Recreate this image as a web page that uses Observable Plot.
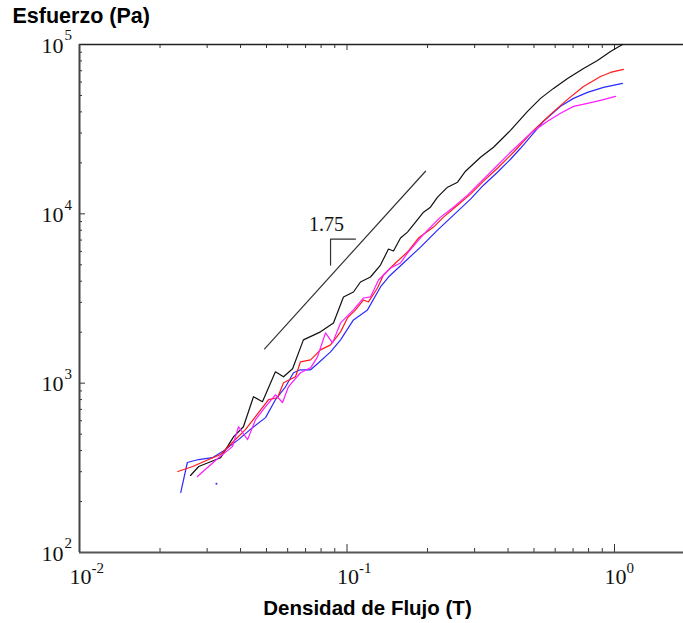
<!DOCTYPE html>
<html>
<head>
<meta charset="utf-8">
<script src="https://cdn.jsdelivr.net/npm/d3@7"></script>
<script src="https://cdn.jsdelivr.net/npm/@observablehq/plot@0.6"></script>
<style>
  html, body { margin: 0; padding: 0; background: #fff; }
</style>
</head>
<body>
<div id="chart"></div>
<script>
// Tick values and labels
const xMajor = [0.01, 0.1, 1];
const xMajorExp = ["-2", "-1", "0"];
const xMinor = [0.02,0.03,0.04,0.05,0.06,0.07,0.08,0.09,0.2,0.3,0.4,0.5,0.6,0.7,0.8,0.9];
const yMajor = [100, 1000, 10000, 100000];
const yMajorExp = ["2", "3", "4", "5"];
const yMinor = [200,300,400,500,600,700,800,900,2000,3000,4000,5000,6000,7000,8000,9000,20000,30000,40000,50000,60000,70000,80000,90000];

// Series: [Densidad de Flujo (T), Esfuerzo (Pa)]
const black = [[0.0260,285],[0.0279,322],[0.0337,363],[0.0377,483],[0.0410,553],[0.0447,832],[0.0483,777],[0.0540,1167],[0.0579,1091],[0.0626,1216],[0.0687,1802],[0.0796,2009],[0.0890,2269],[0.0970,3229],[0.1057,3455],[0.1123,3959],[0.1224,4236],[0.1334,4985],[0.1429,6194],[0.1492,6029],[0.1585,7192],[0.1683,7802],[0.1804,8935],[0.1932,10230],[0.2051,10950],[0.2180,12540],[0.2376,14370],[0.2590,15380],[0.2773,17850],[0.3156,21590],[0.3530,24720],[0.4085,31130],[0.4730,40290],[0.5290,48060],[0.5916,55050],[0.6674,63060],[0.7658,72210],[0.8640,80500],[0.9661,90950],[1.071,100000]];
const red = [[0.0233,301],[0.0265,322],[0.0304,354],[0.0337,379],[0.0373,446],[0.0417,532],[0.0467,669],[0.0509,799],[0.0550,820],[0.0579,1005],[0.0642,1091],[0.0670,1337],[0.0731,1374],[0.0796,1573],[0.0868,1684],[0.0946,2009],[0.1004,2429],[0.1076,2708],[0.1153,3100],[0.1203,3018],[0.1300,3649],[0.1369,4353],[0.1518,5123],[0.1683,5948],[0.1850,7192],[0.2106,8354],[0.2295,9563],[0.2588,11250],[0.2895,13070],[0.3237,15590],[0.3652,18590],[0.4193,23100],[0.4980,31130],[0.5764,38690],[0.6673,47430],[0.7658,56550],[0.8866,64760],[0.966,68390],[1.080,71240]];
const blue = [[0.0239,226],[0.0253,340],[0.0279,354],[0.0314,363],[0.0351,405],[0.0393,464],[0.0443,546],[0.0496,626],[0.0540,799],[0.0589,952],[0.0631,1152],[0.0670,1199],[0.0731,1199],[0.0783,1319],[0.0868,1531],[0.0946,1802],[0.1057,2363],[0.1193,2708],[0.1334,3699],[0.1429,4236],[0.1626,5123],[0.1883,6364],[0.2180,8015],[0.2501,9824],[0.2895,12210],[0.3237,14760],[0.3652,17610],[0.4085,21010],[0.4453,24390],[0.5428,35180],[0.6283,43120],[0.7027,48060],[0.7925,52140],[0.9096,55800],[1.071,58910]];
const magenta = [[0.0276,281],[0.0304,322],[0.0331,363],[0.0373,422],[0.0393,553],[0.0425,464],[0.0455,609],[0.0496,726],[0.0540,854],[0.0574,767],[0.0604,952],[0.0670,1152],[0.0731,1232],[0.0776,1431],[0.0831,1982],[0.0883,1730],[0.0946,2269],[0.1057,2708],[0.1153,3185],[0.1224,3229],[0.1312,4068],[0.1455,4786],[0.1585,5123],[0.1683,5868],[0.1850,6998],[0.2000,8015],[0.2237,9563],[0.2501,10950],[0.2821,12890],[0.3156,15380],[0.3530,18340],[0.4085,23100],[0.4853,29890],[0.5617,35180],[0.6283,39220],[0.7027,43120],[0.7925,44920],[0.8866,46770],[1.009,49390]];
const blueDot = [[0.0325,255]];

// Slope guide
const slopeLine = [[0.0492,1595],[0.1966,17850]];
const slopeMarker = [[0.1076,7094],[0.0868,7094],[0.0868,4985]];
const slopeLabel = [{x: 0.0838, y: 8696, text: "1.75"}];

const serif = "'Liberation Serif', 'DejaVu Serif', serif";
const sans = "'Liberation Sans', Arial, sans-serif";

const W = 683, H = 623, mL = 79, mR = 0, mT = 44, mB = 71;
const fw = W - mL - mR, fh = H - mT - mB;

const chart = Plot.plot({
  width: W,
  height: H,
  marginLeft: mL,
  marginRight: mR,
  marginTop: mT,
  marginBottom: mB,
  style: {background: "#fff"},
  x: {type: "log", domain: [0.01, 1.811], axis: null},
  y: {type: "log", domain: [100, 100000], axis: null},
  marks: [
    // inward ticks
    Plot.tickX(xMajor, {x: d => d, insetTop: fh - 8, stroke: "#333"}),
    Plot.tickX(xMinor, {x: d => d, insetTop: fh - 4, stroke: "#333"}),
    Plot.tickX(xMajor, {x: d => d, insetBottom: fh - 6, stroke: "#333"}),
    Plot.tickX(xMinor, {x: d => d, insetBottom: fh - 4, stroke: "#333"}),
    Plot.tickY(yMajor, {y: d => d, insetRight: fw - 6, stroke: "#333"}),
    Plot.tickY(yMinor, {y: d => d, insetRight: fw - 3, stroke: "#333"}),
    // frame lines
    Plot.ruleY([100], {stroke: "#555", strokeWidth: 2}),
    Plot.ruleY([100000], {stroke: "#222", strokeWidth: 1.5}),
    Plot.ruleX([0.01], {stroke: "#444", strokeWidth: 2}),
    // tick labels
    Plot.text(xMajor, {x: d => d, frameAnchor: "bottom", text: () => "10", dx: 1, dy: 31, fontFamily: serif, fontSize: 22, fill: "#111"}),
    Plot.text(xMajor, {x: d => d, frameAnchor: "bottom", text: (d, i) => xMajorExp[i], dx: 12, dy: 20, textAnchor: "start", fontFamily: serif, fontSize: 15, fill: "#111"}),
    Plot.text(yMajor, {y: d => d, frameAnchor: "left", text: () => "10", dx: -16, dy: 1, textAnchor: "end", fontFamily: serif, fontSize: 22, fill: "#111"}),
    Plot.text(yMajor, {y: d => d, frameAnchor: "left", text: (d, i) => yMajorExp[i], dx: -15, dy: -9, textAnchor: "start", fontFamily: serif, fontSize: 15, fill: "#111"}),
    // axis titles
    Plot.text(["Esfuerzo (Pa)"], {frameAnchor: "top-left", dx: -67, dy: -37, textAnchor: "start", fontFamily: sans, fontWeight: "bold", fontSize: 21.5, fill: "#000"}),
    Plot.text(["Densidad de Flujo (T)"], {frameAnchor: "bottom", dx: -14, dy: 62, fontFamily: sans, fontWeight: "bold", fontSize: 20.5, fill: "#000"}),
    // slope guide
    Plot.line(slopeLine, {x: d => d[0], y: d => d[1], stroke: "#333", strokeWidth: 1.2}),
    Plot.line(slopeMarker, {x: d => d[0], y: d => d[1], stroke: "#333", strokeWidth: 1.2}),
    Plot.text(slopeLabel, {x: "x", y: "y", text: "text", fontFamily: serif, fontSize: 20, fill: "#111"}),
    // data series
    Plot.line(black, {x: d => d[0], y: d => d[1], stroke: "#111", strokeWidth: 1.2}),
    Plot.line(blue, {x: d => d[0], y: d => d[1], stroke: "#2a2aff", strokeWidth: 1.2}),
    Plot.line(red, {x: d => d[0], y: d => d[1], stroke: "#ff1a1a", strokeWidth: 1.2}),
    Plot.line(magenta, {x: d => d[0], y: d => d[1], stroke: "#ff1aff", strokeWidth: 1.2}),
    Plot.dot(blueDot, {x: d => d[0], y: d => d[1], r: 1, fill: "#2a2aff", stroke: null})
  ]
});
document.getElementById("chart").appendChild(chart);
</script>
</body>
</html>
